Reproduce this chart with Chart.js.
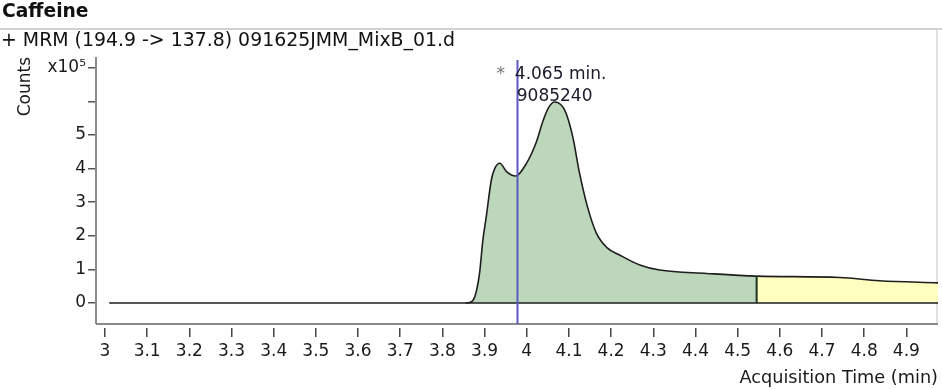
<!DOCTYPE html>
<html>
<head>
<meta charset="utf-8">
<title>Caffeine</title>
<script src="https://cdn.jsdelivr.net/npm/chart.js@4.4.0/dist/chart.umd.min.js"></script>
<style>
  body { margin: 0; background: #fff; }
  canvas { display: block; }
</style>
</head>
<body>
<canvas id="chromChart" width="942" height="389"></canvas>
<script>
const compoundName = 'Caffeine';
const traceLabel = '+ MRM (194.9 -> 137.8) 091625JMM_MixB_01.d';

// acquisition time (min) and counts
const times = [3.01, 3.50, 3.855, 3.866, 3.877, 3.888, 3.896, 3.904, 3.916, 3.924, 3.936, 3.952, 3.974,
  3.999, 4.023, 4.038, 4.052, 4.066, 4.090, 4.109, 4.125, 4.144, 4.165, 4.190, 4.220, 4.268, 4.315, 4.426,
  4.545, 4.742, 4.836, 4.975];
const counts = [0, 0, 0, 2000, 19000, 88000, 188000, 257000, 366000, 400000, 416000, 391000, 378000,
  415000, 480000, 540000, 582000, 598000, 574000, 495000, 387000, 286000, 208000, 165000, 143000, 113000, 98000, 88000,
  80000, 76000, 66000, 60000];

const yTickValues = [0, 100000, 200000, 300000, 400000, 500000, 600000, 700000];
const yTickLabels = ['0', '1', '2', '3', '4', '5', '', 'x10⁵'];

const integStart = 3.855;
const splitTime = 4.545;     // end of first integration window
const markerTime = 3.978;    // expected RT marker
const peakTimeLabel = '4.065 min.';
const peakArea = '9085240';

const greenFill = 'rgb(189,215,189)';
const yellowFill = 'rgb(255,255,192)';
const fontFamily = 'DejaVu Sans';

function line(ctx, x1, y1, x2, y2) {
    ctx.beginPath();
    ctx.moveTo(x1, y1);
    ctx.lineTo(x2, y2);
    ctx.stroke();
}

const chromDecor = {
    id: 'chromDecor',
    beforeDraw(chart) {
        const ctx = chart.ctx;
        const area = chart.chartArea;
        ctx.save();
        ctx.fillStyle = '#fff';
        ctx.fillRect(0, 0, chart.width, chart.height);
        ctx.fillStyle = '#111';
        ctx.textAlign = 'left';
        ctx.textBaseline = 'middle';
        ctx.font = 'bold 18.7px "DejaVu Sans"';
        ctx.fillText(compoundName, 2, 12);
        ctx.font = '18.9px "DejaVu Sans"';
        ctx.fillText(traceLabel, 1, 41);
        ctx.strokeStyle = '#d2d2d2';
        ctx.lineWidth = 2;
        line(ctx, 0, 29, chart.width, 29);
        ctx.strokeStyle = '#e0e0e0';
        line(ctx, area.right - 1, 30, area.right - 1, area.bottom - 4);
        ctx.restore();
    },
    afterDatasetsDraw(chart) {
        const ctx = chart.ctx;
        const area = chart.chartArea;
        const x = chart.scales.x;
        const y = chart.scales.y;
        const boxBottom = area.bottom - 4;
        ctx.save();

        // axis frame
        ctx.strokeStyle = '#8a8a8a';
        ctx.lineWidth = 2;
        line(ctx, area.left, area.top, area.left, boxBottom);
        line(ctx, area.left, boxBottom, area.right, boxBottom);

        // split between the two integration windows
        const si = times.indexOf(splitTime);
        const sx = x.getPixelForValue(splitTime);
        ctx.strokeStyle = '#1c3320';
        ctx.lineWidth = 2;
        line(ctx, sx, y.getPixelForValue(0), sx, y.getPixelForValue(counts[si]));

        // RT marker
        const mx = x.getPixelForValue(markerTime);
        ctx.strokeStyle = '#5b5bc2';
        ctx.lineWidth = 2;
        line(ctx, mx, area.top + 3, mx, boxBottom);

        // peak label
        const pi = counts.indexOf(Math.max(...counts));
        const px = x.getPixelForValue(times[pi]);
        const py = y.getPixelForValue(counts[pi]);
        ctx.font = '17px "DejaVu Sans"';
        ctx.textAlign = 'center';
        ctx.textBaseline = 'middle';
        ctx.fillStyle = '#1a1a2a';
        ctx.fillText(peakArea, px, py - 5);
        ctx.fillText(peakTimeLabel, px + 6, py - 27);
        const w = ctx.measureText(peakTimeLabel).width;
        ctx.fillStyle = '#777';
        ctx.fillText('*', px + 6 - w / 2 - 14, py - 27);
        ctx.restore();
    }
};

const ctx = document.getElementById('chromChart').getContext('2d');
new Chart(ctx, {
    type: 'line',
    data: {
        datasets: [
            {
                data: [{ x: integStart, y: 0 }, { x: times[times.length - 1], y: 0 }],
                borderColor: '#1e1e1e',
                borderWidth: 1.6,
                pointRadius: 0,
                fill: false
            },
            {
                data: times.map((t, i) => ({ x: t, y: counts[i] })),
                borderColor: '#1e1e1e',
                borderWidth: 1.6,
                pointRadius: 0,
                cubicInterpolationMode: 'monotone',
                fill: 'origin',
                backgroundColor: greenFill,
                segment: {
                    backgroundColor: c => c.p0.parsed.x >= splitTime - 1e-9 ? yellowFill : greenFill
                }
            }
        ]
    },
    options: {
        responsive: false,
        animation: false,
        layout: { padding: { top: 57, right: 4, left: 0, bottom: 0 } },
        plugins: { legend: { display: false }, tooltip: { enabled: false } },
        scales: {
            x: {
                type: 'linear',
                min: 2.9787,
                max: 4.975,
                afterFit: s => { s.height = 61; },
                border: { display: false },
                grid: { drawOnChartArea: false, tickLength: 9, color: '#444', lineWidth: 1.5 },
                ticks: {
                    stepSize: 0.1,
                    includeBounds: false,
                    autoSkip: false,
                    maxRotation: 0,
                    padding: 4,
                    color: '#1a1a1a',
                    font: { family: fontFamily, size: 17 },
                    callback: v => String(Math.round(v * 10) / 10)
                },
                title: {
                    display: true,
                    text: 'Acquisition Time (min)',
                    align: 'end',
                    color: '#1a1a1a',
                    font: { family: fontFamily, size: 17.7 },
                    padding: { top: 0, bottom: 0 }
                }
            },
            y: {
                type: 'linear',
                min: -74400,
                max: 732100,
                afterFit: s => { s.width = 96; },
                afterBuildTicks: s => { s.ticks = yTickValues.map(v => ({ value: v })); },
                border: { display: false },
                grid: { drawOnChartArea: false, tickLength: 8, color: '#555', lineWidth: 1.5 },
                ticks: {
                    padding: 2,
                    color: '#1a1a1a',
                    font: { family: fontFamily, size: 17 },
                    callback: (v, i) => yTickLabels[i] ?? ''
                },
                title: {
                    display: true,
                    text: 'Counts',
                    align: 'end',
                    color: '#1a1a1a',
                    font: { family: fontFamily, size: 17 },
                    padding: { top: 15, bottom: 0 }
                }
            }
        }
    },
    plugins: [chromDecor]
});
</script>
</body>
</html>
